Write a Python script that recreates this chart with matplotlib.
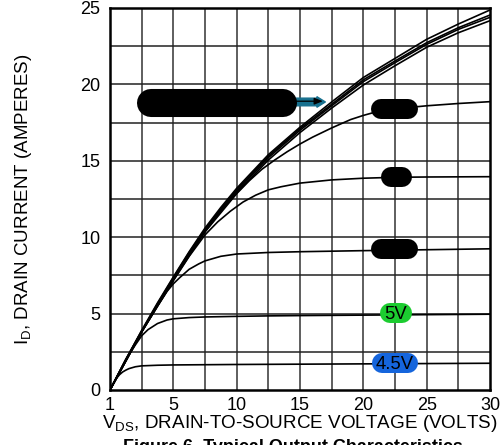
import matplotlib
matplotlib.use("Agg")
import matplotlib.pyplot as plt

plt.rcParams['font.family'] = ['Liberation Sans', 'DejaVu Sans']

# drain current curves (amps) against drain-source voltage (volts)
x_env = [0, 1.25, 2.5, 3.75, 5, 6.25, 7.5, 8.75, 10, 12.5, 15, 17.5, 20, 22.5, 25, 27.5, 30]
id_top1 = [0, 2.0, 3.9, 5.7, 7.4, 9.05, 10.6, 11.95, 13.2, 15.4, 17.2, 18.85, 20.45, 21.7, 22.95, 23.95, 24.87]
id_top2 = [0, 2.0, 3.85, 5.65, 7.35, 9.0, 10.5, 11.85, 13.1, 15.3, 17.1, 18.7, 20.3, 21.53, 22.73, 23.71, 24.54]
id_top3 = [0, 2.0, 3.85, 5.6, 7.3, 8.95, 10.45, 11.8, 13.0, 15.2, 17.0, 18.6, 20.18, 21.42, 22.62, 23.6, 24.39]
id_top4 = [0, 1.95, 3.8, 5.55, 7.2, 8.85, 10.35, 11.7, 12.9, 15.05, 16.85, 18.45, 19.96, 21.22, 22.43, 23.38, 24.17]

x_19 = [0, 2.5, 5, 7.5, 10, 11, 12, 13, 14, 15, 16, 17.5, 19, 20, 21, 22.5, 25, 27.5, 30]
id_19 = [0, 3.8, 7.2, 10.35, 12.85, 13.7, 14.45, 15.05, 15.6, 16.1, 16.55, 17.15, 17.7, 17.97, 18.2, 18.4, 18.6, 18.75, 18.87]

x_14 = [0, 2.5, 5, 6.25, 7.5, 8.5, 9.5, 10.5, 11.5, 12.5, 13.5, 15, 17.5, 20, 22.5, 25, 27.5, 30]
id_14 = [0, 3.8, 7.15, 8.75, 10.15, 11.0, 11.7, 12.3, 12.75, 13.1, 13.3, 13.54, 13.75, 13.86, 13.92, 13.94, 13.95, 13.96]

x_9 = [0, 2.5, 3.75, 4.5, 5, 5.5, 6.25, 7, 7.5, 8.75, 10, 12.5, 15, 20, 25, 30]
id_9 = [0, 3.8, 5.5, 6.45, 6.95, 7.35, 7.9, 8.25, 8.45, 8.75, 8.9, 9.0, 9.05, 9.12, 9.18, 9.24]

x_5 = [0, 0.75, 1.5, 2, 2.5, 3, 3.75, 4.5, 5, 6.25, 7.5, 10, 12.5, 15, 20, 25, 30]
id_5 = [0, 1.15, 2.3, 2.95, 3.55, 3.95, 4.35, 4.58, 4.66, 4.74, 4.78, 4.82, 4.85, 4.87, 4.9, 4.93, 4.96]

x_45 = [0, 0.25, 0.5, 0.75, 1, 1.25, 1.5, 2, 2.5, 3.75, 5, 10, 15, 20, 25, 30]
id_45 = [0, 0.4, 0.75, 1.0, 1.18, 1.3, 1.4, 1.52, 1.58, 1.62, 1.64, 1.67, 1.69, 1.71, 1.73, 1.75]

x_ticks = [0, 5, 10, 15, 20, 25, 30]
x_tick_labels = ["1", "5", "10", "15", "20", "25", "30"]
y_ticks = [0, 5, 10, 15, 20, 25]

fig = plt.figure(figsize=(5.03, 4.45), dpi=100)
ax = fig.add_axes([110 / 503, 55 / 445, 380 / 503, 382 / 445])

# grid every 2.5 in both directions
for g in [2.5 * i for i in range(1, 12)]:
    ax.axvline(g, color="#333333", lw=1.1, zorder=1)
for g in [2.5 * i for i in range(1, 10)]:
    ax.axhline(g, color="#222222", lw=1.1, zorder=1)

curves = [(x_45, id_45), (x_5, id_5), (x_9, id_9), (x_14, id_14), (x_19, id_19),
          (x_env, id_top4), (x_env, id_top3), (x_env, id_top2), (x_env, id_top1)]
for xs, ys in curves:
    ax.plot(xs, ys, color="black", lw=1.2, zorder=3)

# redacted black labels, drawn as fat round-capped strokes
ax.plot([3.24, 13.65], [18.78, 18.78], color="black", lw=20.2, solid_capstyle="round", zorder=5)
ax.plot([21.4, 23.5], [18.39, 18.39], color="black", lw=14.4, solid_capstyle="round", zorder=5)
ax.plot([22.2, 23.05], [13.94, 13.94], color="black", lw=14.4, solid_capstyle="round", zorder=5)
ax.plot([21.4, 23.5], [9.23, 9.23], color="black", lw=14.4, solid_capstyle="round", zorder=5)

# teal arrow pointing at the top curves
ax.annotate("", xy=(17.0, 18.85), xytext=(14.6, 18.85),
            arrowprops=dict(arrowstyle="simple,head_length=0.6,head_width=0.75,tail_width=0.55",
                            fc="#17708e", ec="#17708e", shrinkA=0, shrinkB=0), zorder=4)
ax.annotate("", xy=(16.8, 18.9), xytext=(14.6, 18.9),
            arrowprops=dict(arrowstyle="-|>,head_length=0.5,head_width=0.2", color="black",
                            lw=0.9, shrinkA=0, shrinkB=0), zorder=4)

# coloured gate-voltage labels
ax.plot([22.1, 23.05], [5.04, 5.04], color="#1ccc30", lw=14.4, solid_capstyle="round", zorder=5)
ax.text(22.55, 5.04, "5V", ha="center", va="center_baseline", fontsize=13.3, zorder=6)
ax.plot([21.47, 23.52], [1.77, 1.77], color="#1565dc", lw=14.4, solid_capstyle="round", zorder=5)
ax.text(22.5, 1.77, "4.5V", ha="center", va="center_baseline", fontsize=13.3, zorder=6)

ax.set_xlim(0, 30)
ax.set_ylim(0, 25)
ax.set_xticks(x_ticks)
ax.set_xticklabels(x_tick_labels)
ax.set_yticks(y_ticks)
ax.tick_params(axis="x", length=0, labelsize=13, pad=5)
ax.tick_params(axis="y", length=0, labelsize=13, pad=7)
for s in ax.spines.values():
    s.set_linewidth(1.8)
    s.set_zorder(7)

ax.set_xlabel(r"V$_\mathregular{DS}$, DRAIN-TO-SOURCE VOLTAGE (VOLTS)", fontsize=13.6, labelpad=-1)
ax.set_ylabel(r"I$_\mathregular{D}$, DRAIN CURRENT (AMPERES)", fontsize=13.5, labelpad=33)

fig.text(0.583, 0.014, "Figure 6. Typical Output Characteristics", ha="center", va="top",
         fontsize=13, fontweight="bold")

fig.savefig("out.png", dpi=100)
